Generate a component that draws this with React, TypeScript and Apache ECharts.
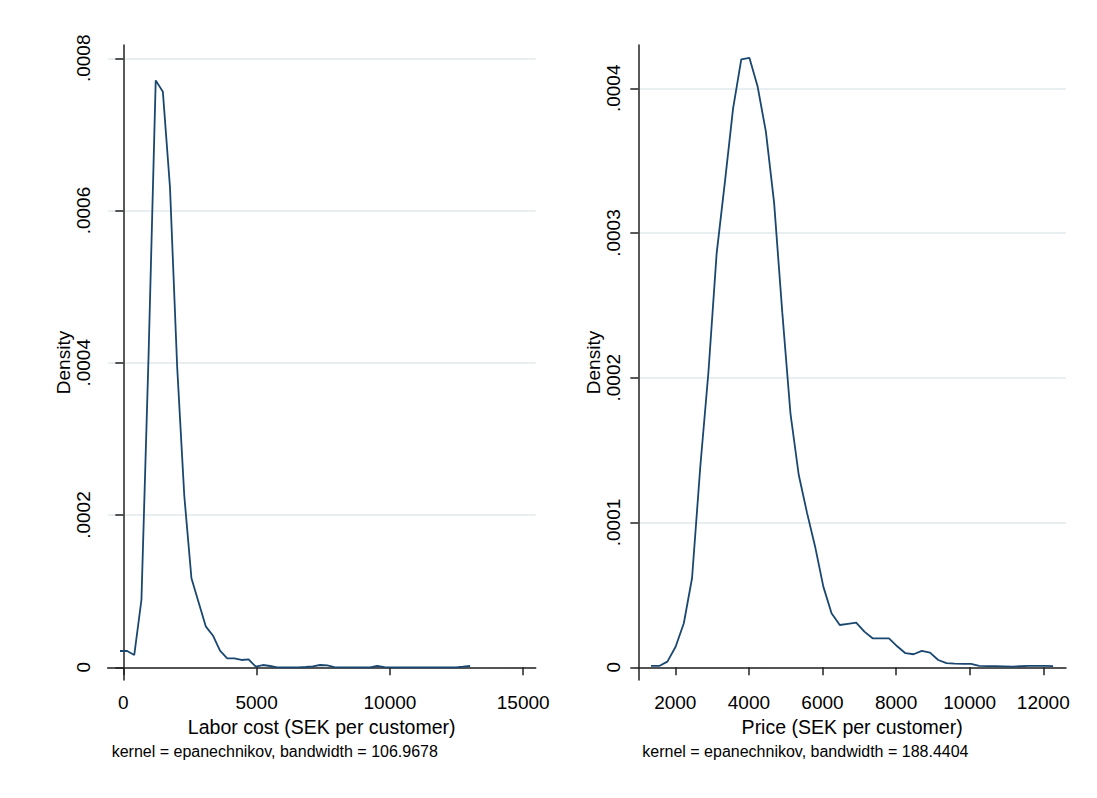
import React, { useEffect, useRef } from "react";
import * as echarts from "echarts";

// Left panel: Labor cost kernel density (Stata kdensity, 50 points)
const laborX = [
  -124, 144, 412, 680, 948, 1216, 1484, 1752, 2020, 2288, 2556, 2824, 3092, 3360, 3628, 3896, 4164, 4432, 4700, 4968,
  5236, 5504, 5772, 6040, 6308, 6576, 6844, 7112, 7380, 7648, 7916, 8184, 8452, 8720, 8988, 9256, 9524, 9792, 10060,
  10328, 10596, 10864, 11132, 11400, 11668, 11936, 12204, 12472, 12740, 13008,
];
const laborDensity = [
  0.0000214, 0.0000214, 0.0000162, 0.0000884, 0.00041, 0.000771, 0.000756, 0.00063, 0.000395, 0.000225, 0.000117,
  0.0000855, 0.0000538, 0.0000418, 0.0000218, 0.0000118, 0.0000118, 0.0000096, 0.0000105, 0.0000008, 0.000003,
  0.0000017, 0.0, 0.0, 0.0, 0.0, 0.0000004, 0.0000012, 0.000003, 0.0000026, 0.0000003, 0.0, 0.0, 0.0, 0.0, 0.0,
  0.0000017, 0.0000002, 0.0, 0.0, 0.0, 0.0, 0.0, 0.0, 0.0, 0.0, 0.0, 0.0, 0.0000008, 0.0000017,
];
const laborXTicks = [0, 5000, 10000, 15000];
const laborYTicks = [0, 0.0002, 0.0004, 0.0006, 0.0008];

// Right panel: Price kernel density
const priceX = [
  1340, 1563, 1786, 2009, 2232, 2455, 2678, 2901, 3124, 3347, 3570, 3793, 4016, 4239, 4462, 4685, 4908, 5131, 5354,
  5577, 5800, 6023, 6246, 6469, 6692, 6915, 7138, 7361, 7584, 7807, 8030, 8253, 8476, 8699, 8922, 9145, 9368, 9591,
  9814, 10037, 10260, 10483, 10706, 10929, 11152, 11375, 11598, 11821, 12044, 12267,
];
const priceDensity = [
  0.0000009, 0.0000009, 0.0000039, 0.0000142, 0.0000304, 0.0000615, 0.000138, 0.000204, 0.000286, 0.000335, 0.000386,
  0.00042, 0.000421, 0.000401, 0.00037, 0.000321, 0.000245, 0.000175, 0.000133, 0.000107, 0.0000833, 0.0000557,
  0.0000373, 0.0000292, 0.00003, 0.0000308, 0.0000246, 0.00002, 0.00002, 0.00002, 0.0000145, 0.0000097, 0.000009,
  0.0000113, 0.0000101, 0.000005, 0.0000028, 0.0000025, 0.0000024, 0.0000023, 0.000001, 0.0000008, 0.0000008,
  0.0000006, 0.0000004, 0.0000007, 0.0000009, 0.0000009, 0.0000009, 0.0000008,
];
const priceXTicks = [2000, 4000, 6000, 8000, 10000, 12000];
const priceYTicks = [0, 0.0001, 0.0002, 0.0003, 0.0004];

const titles = {
  laborX: "Labor cost (SEK per customer)",
  priceX: "Price (SEK per customer)",
  y: "Density",
  laborNote: "kernel = epanechnikov, bandwidth = 106.9678",
  priceNote: "kernel = epanechnikov, bandwidth = 188.4404",
};

const FONT = "'Liberation Sans', Arial, Helvetica, sans-serif";
const LINE = "#1a476f";
const AXIS = "#222222";
const GRID = "#e2eaed";

function yFmt(v: number): string {
  if (Math.abs(v) < 1e-12) return "0";
  return v.toFixed(4).replace(/^0/, "");
}

function xAxisCfg(idx: number, min: number, max: number, ticks: number[], name: string) {
  return {
    type: "value",
    gridIndex: idx,
    min,
    max,
    name,
    nameLocation: "middle",
    nameGap: 37,
    nameTextStyle: { color: "#000", fontSize: 19.5, fontFamily: FONT },
    axisLine: { show: true, lineStyle: { color: AXIS, width: 1.5 } },
    axisTick: { show: true, inside: false, length: 8, customValues: ticks, lineStyle: { color: AXIS, width: 1.5 } },
    axisLabel: {
      show: true,
      customValues: ticks,
      margin: 13,
      color: "#000",
      fontSize: 19,
      fontFamily: FONT,
      formatter: (v: number) => String(Math.round(v)),
    },
    splitLine: { show: false },
  };
}

function yAxisCfg(idx: number, min: number, max: number, ticks: number[]) {
  return {
    type: "value",
    gridIndex: idx,
    min,
    max,
    name: titles.y,
    nameLocation: "middle",
    nameGap: 34,
    nameRotate: 90,
    nameTextStyle: { color: "#000", fontSize: 19, fontFamily: FONT },
    axisLine: { show: true, lineStyle: { color: AXIS, width: 1.5 } },
    axisTick: { show: true, inside: false, length: 8, customValues: ticks, lineStyle: { color: AXIS, width: 1.5 } },
    axisLabel: {
      show: true,
      customValues: ticks,
      rotate: 90,
      margin: 15,
      color: "#000",
      fontSize: 19,
      fontFamily: FONT,
      formatter: (v: number) => yFmt(v),
    },
    splitLine: { show: true, lineStyle: { color: GRID, width: 1.5, type: "solid" } },
  };
}

function densitySeries(idx: number, xs: number[], ys: number[]) {
  return {
    type: "line",
    xAxisIndex: idx,
    yAxisIndex: idx,
    showSymbol: false,
    symbol: "none",
    lineStyle: { color: LINE, width: 1.8 },
    data: xs.map((x, i) => [x, ys[i]]),
  };
}

export default function App() {
  const ref = useRef<HTMLDivElement>(null);

  useEffect(() => {
    if (!ref.current) return;
    const chart = echarts.init(ref.current, undefined, { renderer: "svg" });
    chart.setOption({
      animation: false,
      backgroundColor: "#ffffff",
      grid: [
        { left: 107.7, top: 45, width: 428, height: 635, containLabel: false },
        { left: 638.3, top: 45, width: 427.7, height: 635, containLabel: false },
      ],
      xAxis: [
        xAxisCfg(0, -585, 15468, laborXTicks, titles.laborX),
        xAxisCfg(1, 995, 12617, priceXTicks, titles.priceX),
      ],
      yAxis: [yAxisCfg(0, -0.0000167, 0.0008175, laborYTicks), yAxisCfg(1, -0.0000088, 0.0004299, priceYTicks)],
      series: [densitySeries(0, laborX, laborDensity), densitySeries(1, priceX, priceDensity)],
      graphic: [
        {
          type: "text",
          x: 111.7,
          y: 751.7,
          style: { text: titles.laborNote, fill: "#000", fontSize: 16, fontFamily: FONT, align: "left", verticalAlign: "middle" },
        },
        {
          type: "text",
          x: 642.3,
          y: 751.7,
          style: { text: titles.priceNote, fill: "#000", fontSize: 16, fontFamily: FONT, align: "left", verticalAlign: "middle" },
        },
      ],
    });
    return () => chart.dispose();
  }, []);

  return (
    <div
      ref={ref}
      style={{ position: "fixed", left: 0, top: 0, width: 1097, height: 798, background: "#fff" }}
    />
  );
}
